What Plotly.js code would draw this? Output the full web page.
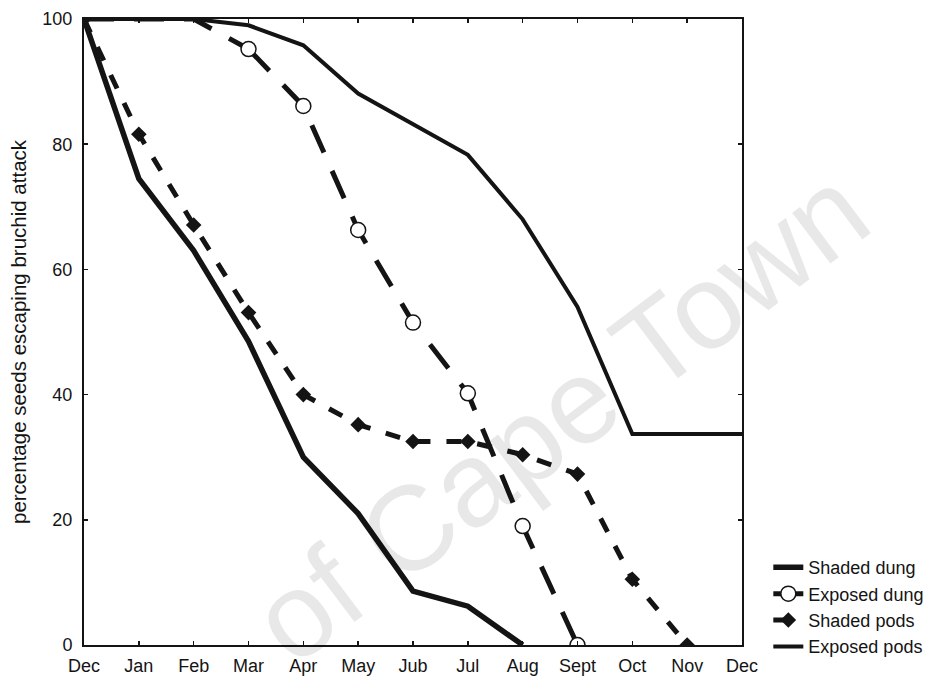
<!DOCTYPE html>
<html>
<head>
<meta charset="utf-8">
<script src="https://cdn.plot.ly/plotly-3.0.1.min.js"></script>
<style>
html,body{margin:0;padding:0;background:#fff;}
#chart{width:943px;height:679px;}
</style>
</head>
<body>
<div id="chart"></div>
<script>
// Tick labels (months)
const monthLabels = ['Dec','Jan','Feb','Mar','Apr','May','Jub','Jul','Aug','Sept','Oct','Nov','Dec'];
const monthIndex = [0,1,2,3,4,5,6,7,8,9,10,11,12];

// Series values (percentage seeds escaping bruchid attack)
const shadedDungX = [0,1,2,3,4,5,6,7,8];
const shadedDung  = [100,74.5,63,48.5,30,21,8.6,6.2,0];

const exposedDungX = [0,1,2,3,4,5,6,7,8,9];
const exposedDung  = [100,100,100,95.2,86.1,66.3,51.5,40.2,19,0];

const shadedPodsX = [0,1,2,3,4,5,6,7,8,9,10,11];
const shadedPods  = [100,81.6,67.1,53.1,40,35.2,32.5,32.5,30.4,27.3,10.5,0];

const exposedPodsX = [0,1,2,3,4,5,6,7,8,9,10,11,12];
const exposedPods  = [100,100,100,99,95.8,88.1,83.2,78.3,68,54,33.7,33.7,33.7];

const yTicks = [0,20,40,60,80,100];

const ink = '#141414';
const FONT = 'Liberation Sans, Arial, sans-serif';

// Exposed dung: the points lying on the 100 % line show no circle in the figure
const firstDrop = exposedDung.findIndex(v => v < 100);
const edLine = {color: ink, width: 5, dash: '30px,20px'};

const traces = [
  {x: shadedDungX, y: shadedDung, name: 'Shaded dung', mode: 'lines',
   line: {color: ink, width: 5.5}},
  {x: exposedDungX.slice(0, firstDrop + 1), y: exposedDung.slice(0, firstDrop + 1),
   name: 'Exposed dung', legendgroup: 'ed', showlegend: false, mode: 'lines', line: edLine},
  {x: exposedDungX.slice(firstDrop), y: exposedDung.slice(firstDrop),
   name: 'Exposed dung', legendgroup: 'ed', mode: 'lines+markers', line: edLine,
   marker: {symbol: 'circle', size: 15, color: '#ffffff', line: {color: ink, width: 1.5}}},
  {x: shadedPodsX, y: shadedPods, name: 'Shaded pods', mode: 'lines+markers',
   line: {color: ink, width: 5, dash: '15px,16px'},
   marker: {symbol: 'diamond', size: 12, color: ink}},
  {x: exposedPodsX, y: exposedPods, name: 'Exposed pods', mode: 'lines',
   line: {color: ink, width: 4}}
];

const layout = {
  width: 943, height: 679,
  margin: {l: 84, r: 201, t: 19, b: 34},
  paper_bgcolor: '#ffffff', plot_bgcolor: '#ffffff',
  font: {family: FONT, size: 18, color: ink},
  showlegend: true,
  legend: {x: 1.04, xanchor: 'left', y: -0.032, yanchor: 'bottom',
           bgcolor: 'rgba(0,0,0,0)', borderwidth: 0, tracegroupgap: 0,
           font: {size: 18, color: ink}, itemwidth: 30},
  xaxis: {range: [0, 12], tickmode: 'array', tickvals: monthIndex, ticktext: monthLabels,
          showgrid: false, zeroline: false, showline: true, linecolor: ink, linewidth: 2,
          mirror: 'ticks', ticks: 'inside', ticklen: 4, tickwidth: 1.5, tickcolor: ink,
          ticklabelstandoff: 3, tickfont: {size: 18}},
  yaxis: {range: [0, 100], tickmode: 'array', tickvals: yTicks,
          showgrid: false, zeroline: false, showline: true, linecolor: ink, linewidth: 2,
          mirror: 'ticks', ticks: 'inside', ticklen: 4, tickwidth: 1.5, tickcolor: ink,
          ticklabelstandoff: 6, tickfont: {size: 18},
          title: {text: 'percentage seeds escaping bruchid attack', standoff: 10, font: {size: 20.5}}},
  annotations: [{
    text: 'of Cape Town', xref: 'paper', yref: 'paper', x: 0.723, y: 0.367,
    xanchor: 'center', yanchor: 'middle', showarrow: false, textangle: -37,
    font: {family: FONT, size: 120, color: 'rgba(0,0,0,0.09)'}
  }]
};

Plotly.newPlot('chart', traces, layout, {displayModeBar: false, staticPlot: true});
</script>
</body>
</html>
